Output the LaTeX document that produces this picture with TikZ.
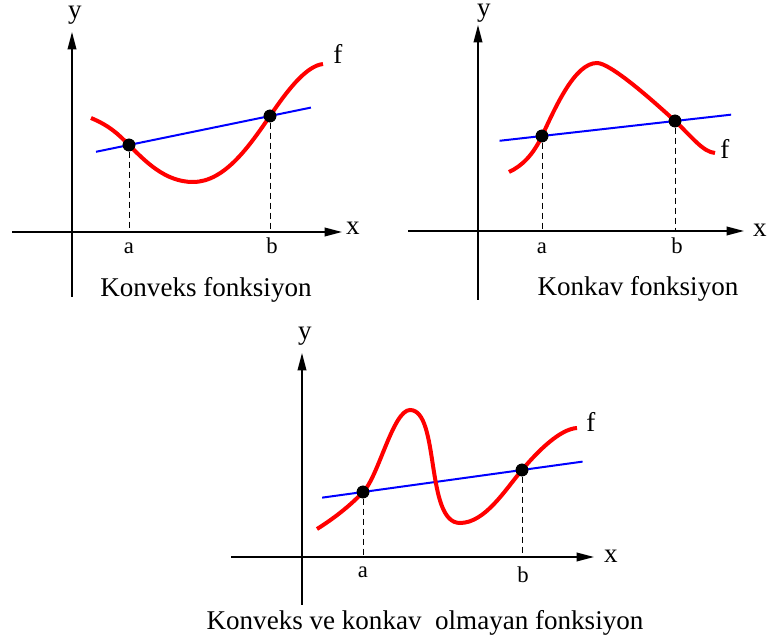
\documentclass[tikz,border=0pt]{standalone}
\usepackage{fontspec}
\setmainfont{Liberation Serif}
\usetikzlibrary{arrows.meta,calc}

\begin{document}
\begin{tikzpicture}[
  x=0.75pt, y=-0.75pt,
  >={Triangle[length=13pt,width=6.5pt]},
  axis/.style={->, line width=1.1pt},
  drop/.style={line width=0.7pt, dash pattern=on 4.5pt off 3pt},
  chord/.style={blue, line width=1.5pt},
  func/.style={red, line width=3pt},
  dot/.style={circle, fill=black, inner sep=0pt, minimum size=9.5pt},
  lbl/.style={font=\fontsize{20.3}{24}\selectfont, anchor=base, inner sep=0pt},
  tick/.style={font=\fontsize{17}{20}\selectfont, anchor=base, inner sep=0pt}
]
  \useasboundingbox (0,0) rectangle (769,641);

  % konveks
  \coordinate (y1s) at (72,297);
  \coordinate (y1e) at (72,32);
  \coordinate (x1s) at (12,232);
  \coordinate (x1e) at (342,232);
  \draw[axis] (y1s) -- (y1e);
  \draw[axis] (x1s) -- (x1e);
  \node[dot] (a1) at (129,145) {};
  \node[dot] (b1) at (270,116) {};
  \draw[drop] (a1) -- (a1 |- x1s);
  \draw[drop] (b1) -- (b1 |- x1s);
  \draw[chord] ($(a1)!-0.234!(b1)$) -- ($(a1)!1.29!(b1)$);
  \draw[func] (91,118) .. controls (110,126) and (118,134) .. (a1.center)
    .. controls (145,161) and (165,182) .. (193,182)
    .. controls (225,182) and (250,145) .. (b1.center)
    .. controls (285,94) and (305,66) .. (323,64);
  \node[dot] at (a1) {};
  \node[dot] at (b1) {};
  \node[lbl] (ylab1) at (75,19) {y};
  \node[lbl] (xlab1) at (353,235) {x};
  \node[lbl] (flab1) at (338,64) {f};
  \node[tick] (ta1) at (129,254) {a};
  \node[tick] (tb1) at (272,254) {b};
  \node[lbl] (cap1) at (206,297) {Konveks fonksiyon};

  % konkav
  \coordinate (y2s) at (478,300);
  \coordinate (y2e) at (478,25);
  \coordinate (x2s) at (408,231);
  \coordinate (x2e) at (744,231);
  \draw[axis] (y2s) -- (y2e);
  \draw[axis] (x2s) -- (x2e);
  \node[dot] (a2) at (542,136) {};
  \node[dot] (b2) at (675,121) {};
  \draw[drop] (a2) -- (a2 |- x2s);
  \draw[drop] (b2) -- (b2 |- x2s);
  \draw[chord] ($(a2)!-0.319!(b2)$) -- ($(a2)!1.422!(b2)$);
  \draw[func] (509,172) .. controls (522,166) and (533,155) .. (a2.center)
    .. controls (556,106) and (575,63) .. (597,63)
    .. controls (610,63) and (650,98) .. (b2.center)
    .. controls (692,137) and (703,152) .. (715,153);
  \node[dot] at (a2) {};
  \node[dot] at (b2) {};
  \node[lbl] (ylab2) at (484,17) {y};
  \node[lbl] (xlab2) at (760,237) {x};
  \node[lbl] (flab2) at (725,159) {f};
  \node[tick] (ta2) at (542,254) {a};
  \node[tick] (tb2) at (677,254) {b};
  \node[lbl] (cap2) at (638,296) {Konkav fonksiyon};

  % ne konveks ne konkav
  \coordinate (y3s) at (302,605);
  \coordinate (y3e) at (302,353);
  \coordinate (x3s) at (231,557);
  \coordinate (x3e) at (594,557);
  \draw[axis] (y3s) -- (y3e);
  \draw[axis] (x3s) -- (x3e);
  \node[dot] (a3) at (363,492) {};
  \node[dot] (b3) at (522,470) {};
  \draw[drop] (a3) -- (a3 |- x3s);
  \draw[drop] (b3) -- (b3 |- x3s);
  \draw[chord] ($(a3)!-0.257!(b3)$) -- ($(a3)!1.381!(b3)$);
  \draw[func] (317,529) .. controls (333,519) and (350,506) .. (a3.center)
    .. controls (378,478) and (393,410) .. (410,410)
    .. controls (440,410) and (425,523) .. (460,523)
    .. controls (485,523) and (505,490) .. (b3.center)
    .. controls (538,451) and (560,429) .. (577,428);
  \node[dot] at (a3) {};
  \node[dot] at (b3) {};
  \node[lbl] (ylab3) at (305,340) {y};
  \node[lbl] (xlab3) at (611,563) {x};
  \node[lbl] (flab3) at (591,432) {f};
  \node[tick] (ta3) at (363,578) {a};
  \node[tick] (tb3) at (523,583) {b};
  \node[lbl] (cap3) at (425,630) {Konveks ve konkav\ \ olmayan fonksiyon};
\end{tikzpicture}
\end{document}
